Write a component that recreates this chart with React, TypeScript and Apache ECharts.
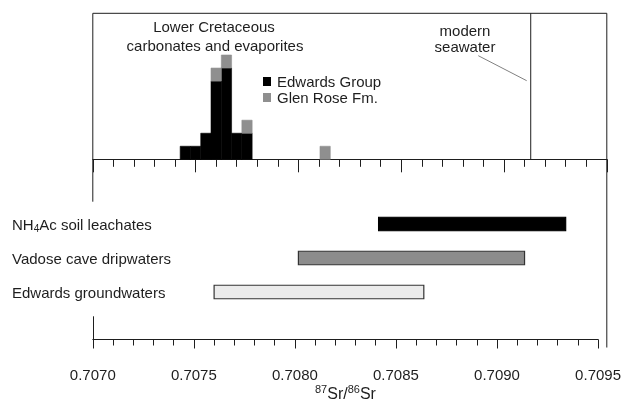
import React, { useEffect, useRef } from "react";
import * as echarts from "echarts";

// Histogram of Lower Cretaceous carbonates and evaporites (bin centres, counts)
const binCenters = [0.70745, 0.7075, 0.70755, 0.7076, 0.70765, 0.7077, 0.70775, 0.70813];
const binWidth = 0.00005;
const edwardsGroupCounts = [1, 1, 2, 6, 7, 2, 2, 0];
const glenRoseCounts = [0, 0, 0, 1, 1, 0, 1, 1];
const modernSeawater = 0.70913;

// Ranges of 87Sr/86Sr
const rangeCategories = ["NH4Ac soil leachates", "Vadose cave dripwaters", "Edwards groundwaters"];
const rangeStarts = [0.70839, 0.708, 0.70759];
const rangeEnds = [0.7093, 0.7091, 0.70861];

const axisMin = 0.707;
const axisMax = 0.7095;
const axisInterval = 0.0005;

const FONT = "Liberation Sans, Arial, sans-serif";
const INK = "#1e1e1e";

export default function App() {
  const ref = useRef<HTMLDivElement>(null);
  useEffect(() => {
    if (!ref.current) return;
    const chart = echarts.init(ref.current, undefined, { renderer: "svg" });
    const L = 92.8;
    const R = 606.8;
    const topY = 13.3;
    const histBase = 159.3;
    const axisY = 347.5;
    const W = 624;
    const fills = ["#000000", "#8c8c8c", "#ebebeb"];
    const lineStyle = { color: INK, width: 1 };
    const histData = binCenters.map((x, i) => [x, edwardsGroupCounts[i], glenRoseCounts[i]]);

    const histRender = (upper: boolean, color: string) => (params: any, api: any) => {
      const x = api.value(0);
      const e = api.value(1);
      const g = api.value(2);
      const lo = upper ? e : 0;
      const hi = upper ? e + g : e;
      if (hi <= lo) return null;
      const p0 = api.coord([x - binWidth / 2, lo]);
      const p1 = api.coord([x + binWidth / 2, hi]);
      return {
        type: "rect",
        shape: { x: p0[0], y: p1[1], width: p1[0] - p0[0], height: p0[1] - p1[1] },
        style: { fill: color, stroke: color, lineWidth: 0.6 },
      };
    };

    chart.setOption({
      animation: false,
      textStyle: { fontFamily: FONT },
      grid: [
        { left: L, right: W - R, top: topY, height: histBase - topY },
        { left: L, right: W - R, top: 207, height: 102 },
        { left: L, right: W - R, top: 316.7, height: axisY - 316.7 },
      ],
      legend: {
        orient: "vertical",
        left: 258,
        top: 69,
        itemWidth: 8,
        itemHeight: 9,
        itemGap: 1,
        icon: "rect",
        data: ["Edwards Group", "Glen Rose Fm."],
        textStyle: { fontSize: 15, color: INK, fontFamily: FONT, padding: [0, 0, 0, 1] },
      },
      xAxis: [
        {
          gridIndex: 0,
          type: "value",
          min: axisMin,
          max: axisMax,
          interval: axisInterval,
          axisLine: { show: true, lineStyle },
          axisTick: { show: true, length: 13, lineStyle },
          minorTick: { show: true, splitNumber: 5, length: 7.5, lineStyle },
          axisLabel: { show: false },
          splitLine: { show: false },
        },
        {
          gridIndex: 1,
          type: "value",
          min: axisMin,
          max: axisMax,
          interval: axisInterval,
          show: false,
        },
        {
          gridIndex: 2,
          type: "value",
          min: axisMin,
          max: axisMax,
          interval: axisInterval,
          axisLine: { show: true, lineStyle },
          axisTick: { show: true, length: 9, lineStyle },
          minorTick: { show: true, splitNumber: 5, length: 6, lineStyle },
          axisLabel: {
            show: true,
            margin: 27,
            fontSize: 15,
            color: INK,
            fontFamily: FONT,
            formatter: (v: number) => v.toFixed(4),
          },
          splitLine: { show: false },
          name: "{sup|87}Sr/{sup|86}Sr",
          nameLocation: "middle",
          nameGap: 44,
          nameTextStyle: {
            fontSize: 16,
            color: INK,
            fontFamily: FONT,
            rich: {
              sup: { fontSize: 11, color: INK, fontFamily: FONT, padding: [0, 0, 8, 0] },
            },
          },
        },
      ],
      yAxis: [
        {
          gridIndex: 0,
          type: "value",
          min: 0,
          max: 11.2,
          show: false,
        },
        {
          gridIndex: 1,
          type: "category",
          inverse: true,
          data: rangeCategories,
          axisLine: { show: false },
          axisTick: { show: false },
          axisLabel: {
            show: true,
            align: "left",
            margin: L - 12,
            fontSize: 15,
            color: INK,
            fontFamily: FONT,
            formatter: (v: string) => v.replace("NH4Ac", "NH{sub|4}Ac"),
            rich: {
              sub: { fontSize: 10, color: INK, fontFamily: FONT, padding: [8, 0, 0, 0] },
            },
          },
        },
        {
          gridIndex: 2,
          type: "value",
          axisLine: { show: true, lineStyle },
          axisTick: { show: false },
          axisLabel: { show: false },
          splitLine: { show: false },
        },
      ],
      series: [
        {
          name: "Edwards Group",
          type: "custom",
          xAxisIndex: 0,
          yAxisIndex: 0,
          itemStyle: { color: "#000000" },
          encode: { x: 0, y: [1, 2] },
          data: histData,
          renderItem: histRender(false, "#000000"),
        },
        {
          name: "Glen Rose Fm.",
          type: "custom",
          xAxisIndex: 0,
          yAxisIndex: 0,
          itemStyle: { color: "#8f8f8f" },
          encode: { x: 0, y: [1, 2] },
          data: histData,
          renderItem: histRender(true, "#8f8f8f"),
        },
        {
          type: "line",
          xAxisIndex: 0,
          yAxisIndex: 0,
          symbol: "none",
          silent: true,
          lineStyle: { color: INK, width: 1 },
          data: [
            [modernSeawater, 0],
            [modernSeawater, 11.2],
          ],
        },
        {
          type: "custom",
          xAxisIndex: 1,
          yAxisIndex: 1,
          data: rangeCategories.map((c, i) => [rangeStarts[i], rangeEnds[i], i]),
          encode: { x: [0, 1], y: 2 },
          renderItem: (params: any, api: any) => {
            const idx = api.value(2);
            const p0 = api.coord([api.value(0), idx]);
            const p1 = api.coord([api.value(1), idx]);
            const h = 13.5;
            return {
              type: "rect",
              shape: { x: p0[0], y: p0[1] - h / 2, width: p1[0] - p0[0], height: h },
              style: {
                fill: fills[params.dataIndex],
                stroke: params.dataIndex === 0 ? "#000" : "#333",
                lineWidth: 1.2,
              },
            };
          },
        },
      ],
      graphic: [
        { type: "line", shape: { x1: L, y1: topY, x2: R, y2: topY }, style: { stroke: INK, lineWidth: 1 } },
        { type: "line", shape: { x1: R, y1: topY, x2: R, y2: axisY }, style: { stroke: INK, lineWidth: 1 } },
        { type: "line", shape: { x1: L, y1: topY, x2: L, y2: 201.7 }, style: { stroke: INK, lineWidth: 1 } },
        { type: "line", shape: { x1: 478.3, y1: 55.7, x2: 526.7, y2: 80.7 }, style: { stroke: "#808080", lineWidth: 1 } },
        {
          type: "text",
          x: 214,
          y: 26.5,
          style: { text: "Lower Cretaceous", font: `15px ${FONT}`, fill: INK, align: "center", verticalAlign: "middle" },
        },
        {
          type: "text",
          x: 215,
          y: 45,
          style: { text: "carbonates and evaporites", font: `15px ${FONT}`, fill: INK, align: "center", verticalAlign: "middle" },
        },
        {
          type: "text",
          x: 465,
          y: 30,
          style: { text: "modern", font: `15px ${FONT}`, fill: INK, align: "center", verticalAlign: "middle" },
        },
        {
          type: "text",
          x: 465,
          y: 46.5,
          style: { text: "seawater", font: `15px ${FONT}`, fill: INK, align: "center", verticalAlign: "middle" },
        },
      ],
    });
    return () => chart.dispose();
  }, []);
  return <div ref={ref} style={{ position: "fixed", left: 0, top: 0, width: 624, height: 402 }} />;
}
